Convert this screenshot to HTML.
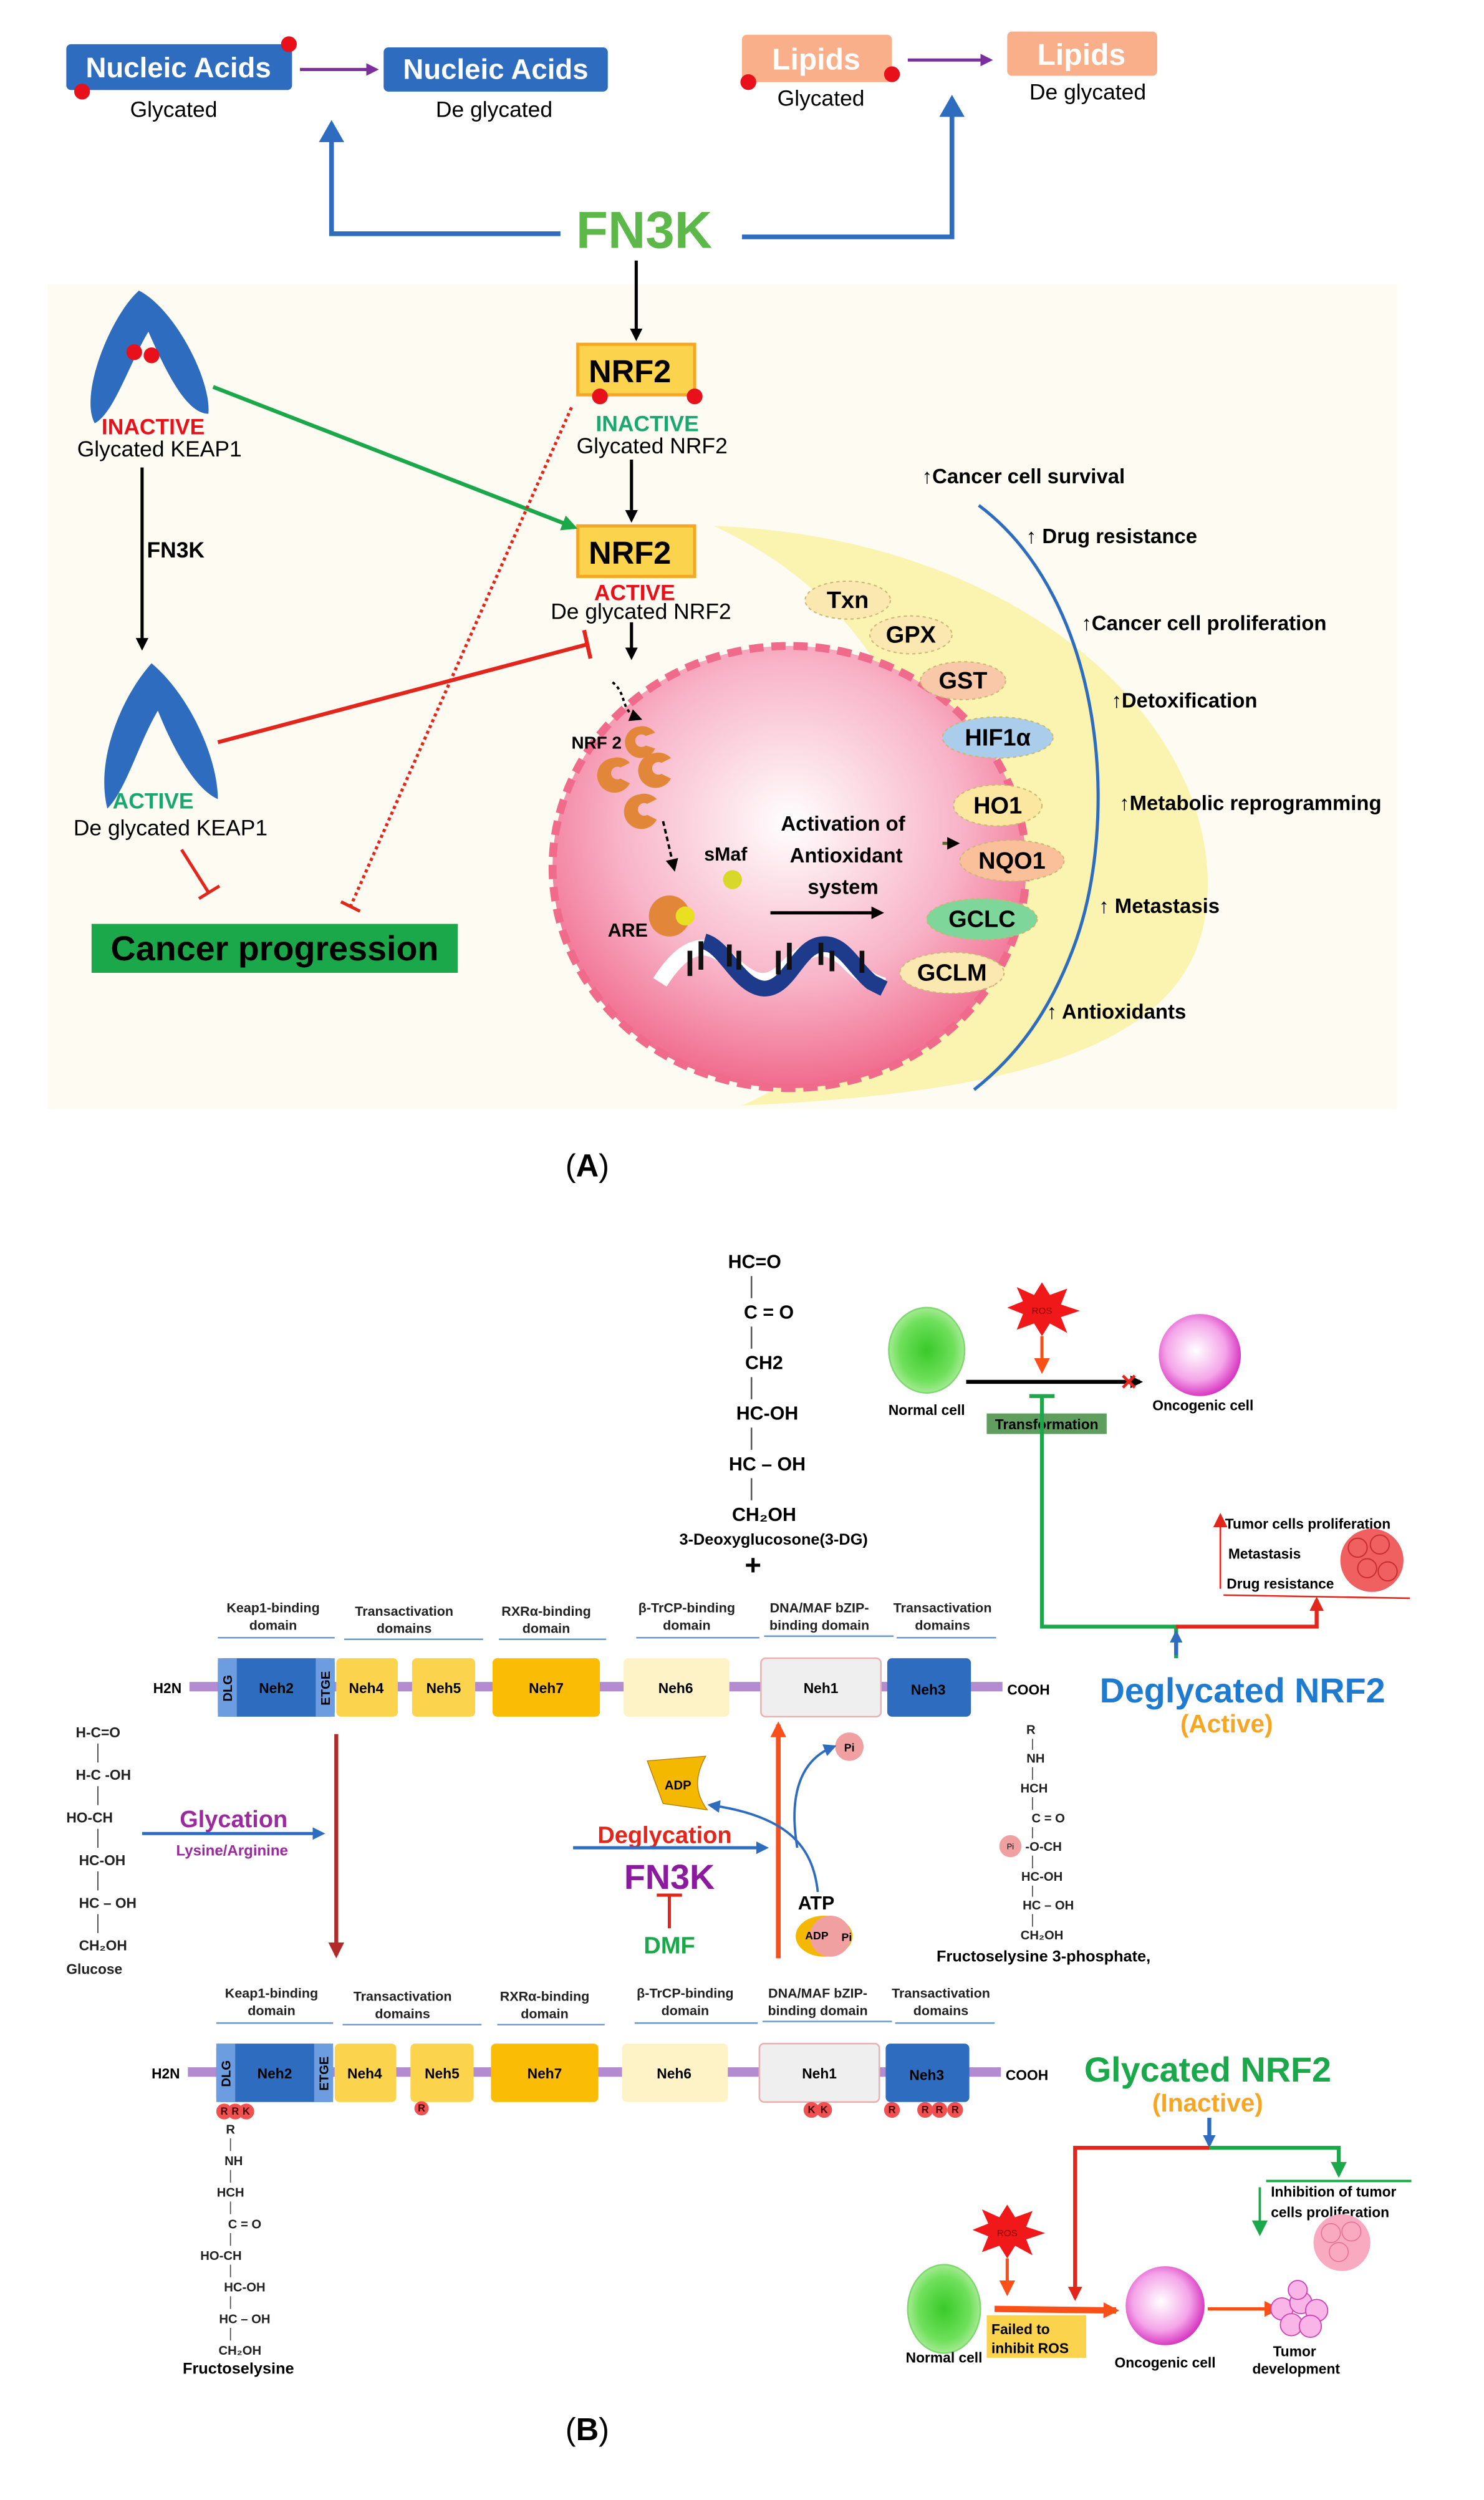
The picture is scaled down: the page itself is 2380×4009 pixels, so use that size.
<!DOCTYPE html>
<html><head><meta charset="utf-8"><style>
html,body{margin:0;padding:0;background:#fff;}
svg{display:block;}
text{font-family:"Liberation Sans",Arial,sans-serif;}
.b{font-weight:bold;}
</style></head><body>
<svg width="2380" height="4009" viewBox="0 0 940 1583" preserveAspectRatio="none" xmlns="http://www.w3.org/2000/svg">
<defs>
<marker id="ak" markerWidth="8" markerHeight="8" refX="6" refY="4" orient="auto" markerUnits="userSpaceOnUse"><path d="M0,0 L8,4 L0,8z" fill="#000"/></marker>
<marker id="ap" markerWidth="8" markerHeight="8" refX="6" refY="4" orient="auto" markerUnits="userSpaceOnUse"><path d="M0,0 L8,4 L0,8z" fill="#7b2f9e"/></marker>
<marker id="abl" markerWidth="14" markerHeight="16" refX="10" refY="8" orient="auto" markerUnits="userSpaceOnUse"><path d="M0,0 L14,8 L0,16z" fill="#2d6cbf"/></marker>
<marker id="ab" markerWidth="8" markerHeight="8" refX="6" refY="4" orient="auto" markerUnits="userSpaceOnUse"><path d="M0,0 L8,4 L0,8z" fill="#2d6cbf"/></marker>
<marker id="ag" markerWidth="10" markerHeight="10" refX="8" refY="5" orient="auto" markerUnits="userSpaceOnUse"><path d="M0,0 L10,5 L0,10z" fill="#1aa84a"/></marker>
<marker id="ar" markerWidth="9" markerHeight="9" refX="7" refY="4.5" orient="auto" markerUnits="userSpaceOnUse"><path d="M0,0 L9,4.5 L0,9z" fill="#e4251b"/></marker>
<marker id="ao" markerWidth="10" markerHeight="10" refX="8" refY="5" orient="auto" markerUnits="userSpaceOnUse"><path d="M0,0 L10,5 L0,10z" fill="#f9501a"/></marker>
<marker id="adr" markerWidth="10" markerHeight="10" refX="8" refY="5" orient="auto" markerUnits="userSpaceOnUse"><path d="M0,0 L10,5 L0,10z" fill="#b32a2a"/></marker>
<radialGradient id="nuc" cx="0.5" cy="0.4" r="0.6"><stop offset="0" stop-color="#fff"/><stop offset="0.6" stop-color="#f8b4c8"/><stop offset="1" stop-color="#f06a8c"/></radialGradient>
<radialGradient id="onc" cx="0.45" cy="0.45" r="0.6"><stop offset="0" stop-color="#fff"/><stop offset="0.6" stop-color="#f4a5e9"/><stop offset="1" stop-color="#d21fb8"/></radialGradient>
<radialGradient id="nor" cx="0.5" cy="0.5" r="0.6"><stop offset="0" stop-color="#39c92a"/><stop offset="0.6" stop-color="#6fe05b"/><stop offset="1" stop-color="#c9f2b9"/></radialGradient>
</defs>

<!-- ========== PART A ========== -->
<rect x="30" y="180" width="855" height="522" fill="#fdfbf2"/>

<rect x="42" y="28" width="143" height="29" rx="3" fill="#2d6cbf"/>
<text x="113" y="49" font-size="18" fill="#fff" text-anchor="middle" class="b">Nucleic Acids</text>
<circle cx="183" cy="28" r="5" fill="#e8101a"/><circle cx="52" cy="58" r="5" fill="#e8101a"/>
<text x="110" y="74" font-size="14" text-anchor="middle">Glycated</text>
<line x1="190" y1="44" x2="238" y2="44" stroke="#7b2f9e" stroke-width="2" marker-end="url(#ap)"/>
<rect x="243" y="30" width="142" height="28" rx="3" fill="#2d6cbf"/>
<text x="314" y="50" font-size="18" fill="#fff" text-anchor="middle" class="b">Nucleic Acids</text>
<text x="313" y="74" font-size="14" text-anchor="middle">De glycated</text>

<rect x="470" y="22" width="95" height="30" rx="3" fill="#f9b08a"/>
<text x="517" y="44" font-size="19" fill="#fff" text-anchor="middle" class="b">Lipids</text>
<circle cx="474" cy="52" r="5" fill="#e8101a"/><circle cx="565" cy="47" r="5" fill="#e8101a"/>
<text x="520" y="67" font-size="14" text-anchor="middle">Glycated</text>
<line x1="575" y1="38" x2="627" y2="38" stroke="#7b2f9e" stroke-width="2" marker-end="url(#ap)"/>
<rect x="638" y="20" width="95" height="28" rx="3" fill="#f9b08a"/>
<text x="685" y="41" font-size="19" fill="#fff" text-anchor="middle" class="b">Lipids</text>
<text x="689" y="63" font-size="14" text-anchor="middle">De glycated</text>

<text x="408" y="157" font-size="33" fill="#5cb848" text-anchor="middle" class="b">FN3K</text>
<polyline points="355,148 210,148 210,80" fill="none" stroke="#2d6cbf" stroke-width="3" marker-end="url(#abl)"/>
<polyline points="470,150 603,150 603,64" fill="none" stroke="#2d6cbf" stroke-width="3" marker-end="url(#abl)"/>
<line x1="403" y1="165" x2="403" y2="214" stroke="#000" stroke-width="2" marker-end="url(#ak)"/>

<rect x="366" y="218" width="74" height="32" fill="#fcd34d" stroke="#f5a623" stroke-width="2"/>
<text x="399" y="242" font-size="20" text-anchor="middle" class="b">NRF2</text>
<circle cx="380" cy="251" r="5" fill="#e8101a"/><circle cx="440" cy="251" r="5" fill="#e8101a"/>
<text x="410" y="273" font-size="14" fill="#1aa870" text-anchor="middle" class="b">INACTIVE</text>
<text x="413" y="287" font-size="14" text-anchor="middle">Glycated NRF2</text>
<line x1="400" y1="291" x2="400" y2="329" stroke="#000" stroke-width="2" marker-end="url(#ak)"/>
<path d="M452,333 C640,340 765,450 765,560 C765,640 700,690 470,700 C610,640 640,420 452,333 Z" fill="#fbf3b0"/>
<rect x="366" y="333" width="74" height="32" fill="#fcd34d" stroke="#f5a623" stroke-width="2"/>
<text x="399" y="357" font-size="20" text-anchor="middle" class="b">NRF2</text>
<text x="402" y="380" font-size="14" fill="#e8101a" text-anchor="middle" class="b">ACTIVE</text>
<text x="406" y="392" font-size="14" text-anchor="middle">De glycated NRF2</text>
<line x1="400" y1="394" x2="400" y2="416" stroke="#000" stroke-width="2" marker-end="url(#ak)"/>

<path d="M88,184 C70,200 50,250 60,268 C72,262 82,230 94,210 C105,235 118,262 132,262 C134,240 110,195 88,184 Z" fill="#2d6cbf"/>
<circle cx="85" cy="223" r="5" fill="#e8101a"/><circle cx="96" cy="225" r="5" fill="#e8101a"/>
<text x="97" y="275" font-size="14" fill="#e8101a" text-anchor="middle" class="b">INACTIVE</text>
<text x="101" y="289" font-size="14" text-anchor="middle">Glycated KEAP1</text>
<line x1="90" y1="296" x2="90" y2="410" stroke="#000" stroke-width="2" marker-end="url(#ak)"/>
<text x="93" y="353" font-size="14" class="b">FN3K</text>
<path d="M96,420 C78,440 60,480 68,512 C80,500 88,470 100,450 C110,475 124,500 138,506 C138,480 120,440 96,420 Z" fill="#2d6cbf"/>
<text x="97" y="512" font-size="14" fill="#1aa870" text-anchor="middle" class="b">ACTIVE</text>
<text x="108" y="529" font-size="14" text-anchor="middle">De glycated KEAP1</text>
<line x1="115" y1="538" x2="132" y2="565" stroke="#e4251b" stroke-width="2"/>
<line x1="126" y1="569" x2="139" y2="561" stroke="#e4251b" stroke-width="2"/>
<rect x="58" y="585" width="232" height="31" fill="#1aa84a"/>
<text x="174" y="608" font-size="22" text-anchor="middle" class="b">Cancer progression</text>
<line x1="135" y1="245" x2="364" y2="334" stroke="#1aa84a" stroke-width="2.5" marker-end="url(#ag)"/>
<line x1="362" y1="258" x2="222" y2="574" stroke="#e4251b" stroke-width="2" stroke-dasharray="2,2"/>
<line x1="216" y1="571" x2="228" y2="577" stroke="#e4251b" stroke-width="2"/>
<line x1="138" y1="470" x2="372" y2="408" stroke="#e4251b" stroke-width="2.5"/>
<line x1="370" y1="399" x2="374" y2="417" stroke="#e4251b" stroke-width="2.5"/>

<ellipse cx="500" cy="549" rx="150" ry="140" fill="url(#nuc)" stroke="#f06a8c" stroke-width="5" stroke-dasharray="9,5"/>
<path d="M388,432 C398,440 392,450 405,455" fill="none" stroke="#000" stroke-width="1.5" stroke-dasharray="2,2" marker-end="url(#ak)"/>
<text x="362" y="474" font-size="11" class="b">NRF 2</text>
<g fill="#e2873a">
<path d="M405,460 a10,10 0 1 0 10,14 l-6,-2 a4,4 0 1 1 0,-6 l6,-2 a10,10 0 0 0 -10,-4z"/>
<path d="M388,480 a11,11 0 1 0 11,16 l-6,-3 a4,4 0 1 1 0,-7 l6,-3 a11,11 0 0 0 -11,-3z"/>
<path d="M414,477 a11,11 0 1 0 11,16 l-6,-3 a4,4 0 1 1 0,-7 l6,-3 a11,11 0 0 0 -11,-3z"/>
<path d="M405,503 a11,11 0 1 0 11,16 l-6,-3 a4,4 0 1 1 0,-7 l6,-3 a11,11 0 0 0 -11,-3z"/>
<circle cx="424" cy="580" r="13"/>
</g>
<line x1="420" y1="520" x2="427" y2="550" stroke="#000" stroke-width="1.5" stroke-dasharray="3,2" marker-end="url(#ak)"/>
<circle cx="464" cy="557" r="6" fill="#d8d82a"/><circle cx="434" cy="580" r="6" fill="#e8e020"/>
<text x="446" y="545" font-size="12" class="b">sMaf</text>
<text x="534" y="526" font-size="13" text-anchor="middle" class="b">Activation of</text>
<text x="536" y="546" font-size="13" text-anchor="middle" class="b">Antioxidant</text>
<text x="534" y="566" font-size="13" text-anchor="middle" class="b">system</text>
<text x="385" y="593" font-size="12" class="b">ARE</text>
<line x1="488" y1="578" x2="558" y2="578" stroke="#000" stroke-width="2" marker-end="url(#ak)"/>
<path d="M418,622 C432,600 445,595 458,605 C472,618 482,628 496,615 C510,600 522,595 536,608 C545,617 552,622 560,624" fill="none" stroke="#fff" stroke-width="10"/>
<path d="M446,596 C460,600 468,625 484,626 C500,626 505,600 520,598 C534,596 540,612 552,622 L560,626" fill="none" stroke="#1e3a8a" stroke-width="10"/>
<g stroke="#111" stroke-width="3"><line x1="437" y1="602" x2="437" y2="618"/><line x1="444" y1="596" x2="444" y2="614"/><line x1="462" y1="598" x2="462" y2="612"/><line x1="468" y1="602" x2="468" y2="614"/><line x1="493" y1="602" x2="493" y2="617"/><line x1="500" y1="597" x2="500" y2="614"/><line x1="520" y1="597" x2="520" y2="611"/><line x1="527" y1="602" x2="527" y2="615"/><line x1="546" y1="602" x2="546" y2="616"/></g>
<line x1="597" y1="534" x2="606" y2="534" stroke="#556b2f" stroke-width="2" marker-end="url(#ak)"/>

<g stroke="#c9b870" stroke-width="0.8" stroke-dasharray="2,2">
<ellipse cx="537" cy="380" rx="27" ry="12" fill="#fbe7b0"/>
<ellipse cx="577" cy="402" rx="26" ry="12" fill="#fbe7b0"/>
<ellipse cx="610" cy="431" rx="27" ry="12" fill="#f9c8a8"/>
<ellipse cx="632" cy="467" rx="35" ry="13" fill="#a9cdeb"/>
<ellipse cx="632" cy="510" rx="28" ry="13" fill="#fbe7a0"/>
<ellipse cx="641" cy="545" rx="33" ry="13" fill="#f9c09a"/>
<ellipse cx="622" cy="582" rx="35" ry="13" fill="#7ed69a"/>
<ellipse cx="603" cy="616" rx="33" ry="13" fill="#fbe7b0"/>
</g>
<g font-size="15" text-anchor="middle" class="b">
<text x="537" y="385">Txn</text><text x="577" y="407">GPX</text><text x="610" y="436">GST</text><text x="632" y="472">HIF1α</text><text x="632" y="515">HO1</text><text x="641" y="550">NQO1</text><text x="622" y="587">GCLC</text><text x="603" y="621">GCLM</text>
</g>
<path d="M620,320 C700,380 710,520 680,600 C665,640 645,668 617,690" fill="none" stroke="#2d6cbf" stroke-width="2"/>
<g font-size="13" class="b">
<text x="584" y="306">↑Cancer cell survival</text>
<text x="650" y="344">↑ Drug resistance</text>
<text x="685" y="399">↑Cancer cell proliferation</text>
<text x="704" y="448">↑Detoxification</text>
<text x="709" y="513">↑Metabolic reprogramming</text>
<text x="696" y="578">↑ Metastasis</text>
<text x="663" y="645">↑  Antioxidants</text>
</g>
<text x="372" y="745" font-size="20" text-anchor="middle" font-family="Liberation Serif, serif">(<tspan font-weight="bold">A</tspan>)</text>

<!-- ========== PART B ========== -->
<g font-size="12" class="b" text-anchor="middle">
<text x="478" y="803">HC=O</text><text x="487" y="835">C = O</text><text x="484" y="867">CH2</text><text x="486" y="899">HC-OH</text><text x="486" y="931">HC – OH</text><text x="484" y="963">CH₂OH</text>
</g>
<g stroke="#555" stroke-width="1"><line x1="476" y1="808" x2="476" y2="822"/><line x1="476" y1="840" x2="476" y2="854"/><line x1="476" y1="872" x2="476" y2="886"/><line x1="476" y1="904" x2="476" y2="918"/><line x1="476" y1="936" x2="476" y2="950"/></g>
<text x="490" y="978" font-size="10" class="b" text-anchor="middle">3-Deoxyglucosone(3-DG)</text>
<text x="477" y="997" font-size="18" class="b" text-anchor="middle">+</text>

<ellipse cx="587" cy="855" rx="24" ry="27" fill="url(#nor)" stroke="#7fd870"/>
<text x="587" y="896" font-size="9" class="b" text-anchor="middle">Normal cell</text>
<line x1="612" y1="875" x2="722" y2="875" stroke="#000" stroke-width="2.5" marker-end="url(#ak)"/>
<text x="715" y="880" font-size="14" fill="#e4251b" text-anchor="middle" class="b">✕</text>
<circle cx="760" cy="858" r="26" fill="url(#onc)"/>
<text x="762" y="893" font-size="9" class="b" text-anchor="middle">Oncogenic cell</text>
<polygon points="660,812 665,820 676,816 672,826 684,830 672,834 676,844 665,838 660,846 655,838 644,842 648,832 638,828 648,824 644,815 655,820" fill="#f01818"/>
<text x="660" y="832" font-size="6" fill="#800" text-anchor="middle">ROS</text>
<line x1="660" y1="846" x2="660" y2="868" stroke="#f9501a" stroke-width="2" marker-end="url(#ao)"/>
<rect x="625" y="895" width="76" height="13" fill="#5f9e5f"/>
<text x="663" y="905" font-size="9" class="b" text-anchor="middle">Transformation</text>
<polyline points="745,1050 745,1030 660,1030 660,884" fill="none" stroke="#1aa84a" stroke-width="2.5"/>
<line x1="652" y1="884" x2="668" y2="884" stroke="#1aa84a" stroke-width="2.5"/>
<line x1="745" y1="1048" x2="745" y2="1034" stroke="#2d6cbf" stroke-width="2.5" marker-end="url(#ab)"/>
<polyline points="745,1030 834,1030 834,1013" fill="none" stroke="#e4251b" stroke-width="2.5" marker-end="url(#ar)"/>
<line x1="773" y1="1006" x2="773" y2="960" stroke="#e4251b" stroke-width="1" marker-end="url(#ar)"/>
<g font-size="9" class="b"><text x="776" y="968">Tumor cells proliferation</text><text x="778" y="987">Metastasis</text><text x="777" y="1006">Drug resistance</text></g>
<line x1="775" y1="1010" x2="893" y2="1012" stroke="#e4251b" stroke-width="1"/>
<circle cx="869" cy="988" r="20" fill="#f06060"/>
<g fill="none" stroke="#c83030" stroke-width="0.8"><circle cx="860" cy="980" r="6"/><circle cx="874" cy="978" r="6"/><circle cx="866" cy="993" r="6"/><circle cx="879" cy="995" r="6"/></g>
<text x="787" y="1078" font-size="22" fill="#1f7bd0" text-anchor="middle" class="b">Deglycated NRF2</text>
<text x="777" y="1097" font-size="16" fill="#f5a623" text-anchor="middle" class="b">(Active)</text>

<g id="bar1">
<g font-size="8.5" class="b" text-anchor="middle" fill="#222">
<text x="173" y="1021">Keap1-binding</text><text x="173" y="1032">domain</text>
<text x="256" y="1023">Transactivation</text><text x="256" y="1034">domains</text>
<text x="346" y="1023">RXRα-binding</text><text x="346" y="1034">domain</text>
<text x="435" y="1021">β-TrCP-binding</text><text x="435" y="1032">domain</text>
<text x="519" y="1021">DNA/MAF bZIP-</text><text x="519" y="1032">binding domain</text>
<text x="597" y="1021">Transactivation</text><text x="597" y="1032">domains</text>
</g>
<g stroke="#6a9bd0" stroke-width="1"><line x1="138" y1="1037" x2="212" y2="1037"/><line x1="218" y1="1038" x2="306" y2="1038"/><line x1="316" y1="1038" x2="384" y2="1038"/><line x1="403" y1="1037" x2="481" y2="1037"/><line x1="484" y1="1036" x2="566" y2="1036"/><line x1="568" y1="1037" x2="631" y2="1037"/></g>
<text x="97" y="1072" font-size="9" class="b">H2N</text>
<rect x="120" y="1065" width="515" height="6" fill="#b38bd1"/>
<text x="638" y="1073" font-size="9" class="b">COOH</text>
<rect x="138" y="1050" width="74" height="37" rx="3" fill="#2d6cbf"/>
<rect x="138" y="1050" width="12" height="37" fill="#6b9de0"/><rect x="200" y="1050" width="12" height="37" fill="#6b9de0"/>
<text x="147" y="1069" font-size="8" class="b" text-anchor="middle" transform="rotate(-90 147 1069)">DLG</text>
<text x="209" y="1069" font-size="8" class="b" text-anchor="middle" transform="rotate(-90 209 1069)">ETGE</text>
<rect x="213" y="1050" width="39" height="37" rx="3" fill="#fcd34d"/>
<rect x="261" y="1050" width="40" height="37" rx="3" fill="#fcd34d"/>
<rect x="312" y="1050" width="68" height="37" rx="3" fill="#fbbc05"/>
<rect x="395" y="1050" width="67" height="37" rx="3" fill="#fdf3c6"/>
<rect x="482" y="1050" width="76" height="37" rx="3" fill="#efefef" stroke="#e8b0b0"/>
<rect x="562" y="1050" width="53" height="37" rx="3" fill="#2d6cbf"/>
<g font-size="9" class="b" text-anchor="middle"><text x="175" y="1072">Neh2</text><text x="232" y="1072">Neh4</text><text x="281" y="1072">Neh5</text><text x="346" y="1072">Neh7</text><text x="428" y="1072">Neh6</text><text x="520" y="1072">Neh1</text><text x="588" y="1073">Neh3</text></g>
</g>
<use href="#bar1" transform="translate(-1,244)"/>
<g fill="#f05050"><circle cx="142" cy="1337" r="5"/><circle cx="149" cy="1337" r="5"/><circle cx="156" cy="1337" r="5"/><circle cx="267" cy="1335" r="4.5"/><circle cx="514" cy="1336" r="5"/><circle cx="522" cy="1336" r="5"/><circle cx="565" cy="1336" r="5"/><circle cx="586" cy="1336" r="5"/><circle cx="595" cy="1336" r="5"/><circle cx="605" cy="1336" r="5"/></g>
<g font-size="6.5" class="b" text-anchor="middle" fill="#400"><text x="142" y="1339">R</text><text x="149" y="1339">R</text><text x="156" y="1339">K</text><text x="267" y="1337">R</text><text x="514" y="1338">K</text><text x="522" y="1338">K</text><text x="565" y="1338">R</text><text x="586" y="1338">R</text><text x="595" y="1338">R</text><text x="605" y="1338">R</text></g>

<g font-size="9" class="b" fill="#222">
<text x="48" y="1100">H-C=O</text><text x="48" y="1127">H-C -OH</text><text x="42" y="1154">HO-CH</text><text x="50" y="1181">HC-OH</text><text x="50" y="1208">HC – OH</text><text x="50" y="1235">CH₂OH</text><text x="42" y="1250">Glucose</text>
</g>
<g stroke="#555" stroke-width="0.8"><line x1="62" y1="1104" x2="62" y2="1116"/><line x1="62" y1="1131" x2="62" y2="1143"/><line x1="62" y1="1158" x2="62" y2="1170"/><line x1="62" y1="1185" x2="62" y2="1197"/><line x1="62" y1="1212" x2="62" y2="1224"/></g>
<text x="148" y="1157" font-size="15" fill="#9b2a9e" text-anchor="middle" class="b">Glycation</text>
<line x1="90" y1="1161" x2="204" y2="1161" stroke="#2d6cbf" stroke-width="2" marker-end="url(#ab)"/>
<text x="147" y="1175" font-size="9.5" fill="#9b2a9e" text-anchor="middle" class="b">Lysine/Arginine</text>
<line x1="213" y1="1098" x2="213" y2="1238" stroke="#b32a2a" stroke-width="2.5" marker-end="url(#adr)"/>

<text x="421" y="1167" font-size="15" fill="#e4251b" text-anchor="middle" class="b">Deglycation</text>
<line x1="363" y1="1170" x2="485" y2="1170" stroke="#2d6cbf" stroke-width="2" marker-end="url(#ab)"/>
<text x="424" y="1196" font-size="22" fill="#8b1a9e" text-anchor="middle" class="b">FN3K</text>
<line x1="424" y1="1200" x2="424" y2="1221" stroke="#e4251b" stroke-width="2"/>
<line x1="416" y1="1200" x2="432" y2="1200" stroke="#e4251b" stroke-width="2"/>
<text x="424" y="1237" font-size="15" fill="#1aa84a" text-anchor="middle" class="b">DMF</text>
<line x1="493" y1="1240" x2="493" y2="1092" stroke="#f9501a" stroke-width="3" marker-end="url(#ao)"/>
<path d="M410,1115 L447,1112 C440,1125 440,1135 448,1146 L420,1142 Z" fill="#f5b800" stroke="#b07800" stroke-width="0.5"/>
<text x="421" y="1133" font-size="8" class="b">ADP</text>
<circle cx="538" cy="1106" r="9" fill="#f0a0a0"/><text x="538" y="1109" font-size="7" class="b" text-anchor="middle">Pi</text>
<path d="M518,1198 C515,1170 500,1150 450,1143" fill="none" stroke="#2d6cbf" stroke-width="1.5" marker-end="url(#ab)"/>
<path d="M505,1170 C500,1140 505,1115 528,1106" fill="none" stroke="#2d6cbf" stroke-width="1.5" marker-end="url(#ab)"/>
<text x="517" y="1209" font-size="12" class="b" text-anchor="middle">ATP</text>
<ellipse cx="522" cy="1226" rx="18" ry="13" fill="#f5b800"/>
<path d="M526,1213 a13,13 0 0 1 0,26 a13,13 0 0 1 0,-26z" fill="#f0a0a0"/>
<text x="510" y="1228" font-size="7" class="b">ADP</text><text x="533" y="1229" font-size="7" class="b">Pi</text>

<g font-size="8" class="b" text-anchor="middle" fill="#222">
<text x="653" y="1098">R</text><text x="656" y="1116">NH</text><text x="655" y="1135">HCH</text><text x="664" y="1154">C = O</text><text x="661" y="1172">-O-CH</text><text x="660" y="1191">HC-OH</text><text x="664" y="1209">HC – OH</text><text x="660" y="1228">CH₂OH</text>
</g>
<g stroke="#555" stroke-width="0.7"><line x1="654" y1="1101" x2="654" y2="1108"/><line x1="654" y1="1119" x2="654" y2="1127"/><line x1="654" y1="1138" x2="654" y2="1146"/><line x1="654" y1="1157" x2="654" y2="1164"/><line x1="654" y1="1175" x2="654" y2="1183"/><line x1="654" y1="1194" x2="654" y2="1201"/><line x1="654" y1="1212" x2="654" y2="1220"/></g>
<circle cx="640" cy="1169" r="7" fill="#f0a0a0"/><text x="640" y="1171" font-size="5" text-anchor="middle">Pi</text>
<text x="661" y="1242" font-size="10" class="b" text-anchor="middle">Fructoselysine 3-phosphate,</text>

<g font-size="8" class="b" text-anchor="middle" fill="#222">
<text x="146" y="1351">R</text><text x="148" y="1371">NH</text><text x="146" y="1391">HCH</text><text x="155" y="1411">C = O</text><text x="140" y="1431">HO-CH</text><text x="155" y="1451">HC-OH</text><text x="155" y="1471">HC – OH</text><text x="152" y="1491">CH₂OH</text>
</g>
<g stroke="#555" stroke-width="0.7"><line x1="146" y1="1354" x2="146" y2="1362"/><line x1="146" y1="1374" x2="146" y2="1382"/><line x1="146" y1="1394" x2="146" y2="1402"/><line x1="146" y1="1414" x2="146" y2="1422"/><line x1="146" y1="1434" x2="146" y2="1442"/><line x1="146" y1="1454" x2="146" y2="1462"/><line x1="146" y1="1474" x2="146" y2="1482"/></g>
<text x="151" y="1503" font-size="10" class="b" text-anchor="middle">Fructoselysine</text>

<text x="765" y="1318" font-size="22" fill="#1aa84a" text-anchor="middle" class="b">Glycated NRF2</text>
<text x="765" y="1337" font-size="16" fill="#f5a623" text-anchor="middle" class="b">(Inactive)</text>
<line x1="766" y1="1341" x2="766" y2="1358" stroke="#2d6cbf" stroke-width="2.5" marker-end="url(#ab)"/>
<polyline points="766,1360 681,1360 681,1455" fill="none" stroke="#e4251b" stroke-width="2.5" marker-end="url(#ar)"/>
<polyline points="766,1360 848,1360 848,1377" fill="none" stroke="#1aa84a" stroke-width="2.5" marker-end="url(#ag)"/>
<line x1="802" y1="1381" x2="894" y2="1381" stroke="#1aa84a" stroke-width="1.5"/>
<line x1="798" y1="1385" x2="798" y2="1414" stroke="#1aa84a" stroke-width="1.5" marker-end="url(#ag)"/>
<g font-size="9" class="b"><text x="805" y="1391">Inhibition of tumor</text><text x="805" y="1404">cells proliferation</text></g>
<circle cx="850" cy="1420" r="18" fill="#f9a9c0"/>
<g fill="none" stroke="#e27090" stroke-width="0.6"><circle cx="843" cy="1414" r="6"/><circle cx="856" cy="1413" r="6"/><circle cx="848" cy="1426" r="6"/></g>

<ellipse cx="598" cy="1462" rx="23" ry="28" fill="url(#nor)" stroke="#7fd870"/>
<text x="598" y="1496" font-size="9" class="b" text-anchor="middle">Normal cell</text>
<polygon points="638,1396 643,1404 654,1400 650,1410 662,1414 650,1418 654,1428 643,1422 638,1430 633,1422 622,1426 626,1416 616,1412 626,1408 622,1399 633,1404" fill="#f01818"/>
<text x="638" y="1416" font-size="6" fill="#800" text-anchor="middle">ROS</text>
<line x1="638" y1="1430" x2="638" y2="1452" stroke="#f9501a" stroke-width="2" marker-end="url(#ao)"/>
<line x1="630" y1="1462" x2="707" y2="1463" stroke="#f9501a" stroke-width="4" marker-end="url(#ao)"/>
<rect x="625" y="1466" width="63" height="27" fill="#fcd34d"/>
<g font-size="9" class="b"><text x="628" y="1478">Failed to</text><text x="628" y="1490">inhibit ROS</text></g>
<circle cx="738" cy="1460" r="25" fill="url(#onc)"/>
<text x="738" y="1499" font-size="9" class="b" text-anchor="middle">Oncogenic cell</text>
<line x1="765" y1="1462" x2="809" y2="1462" stroke="#f9501a" stroke-width="2" marker-end="url(#ao)"/>
<g fill="#f9b4e8" stroke="#d040b0" stroke-width="0.7"><circle cx="812" cy="1462" r="7"/><circle cx="824" cy="1458" r="7"/><circle cx="834" cy="1463" r="7"/><circle cx="818" cy="1472" r="7"/><circle cx="830" cy="1473" r="7"/><circle cx="822" cy="1450" r="6"/></g>
<g font-size="9" class="b" text-anchor="middle"><text x="820" y="1492">Tumor</text><text x="821" y="1503">development</text></g>

<text x="372" y="1545" font-size="20" text-anchor="middle" font-family="Liberation Serif, serif">(<tspan font-weight="bold">B</tspan>)</text>
</svg>
</body></html>
